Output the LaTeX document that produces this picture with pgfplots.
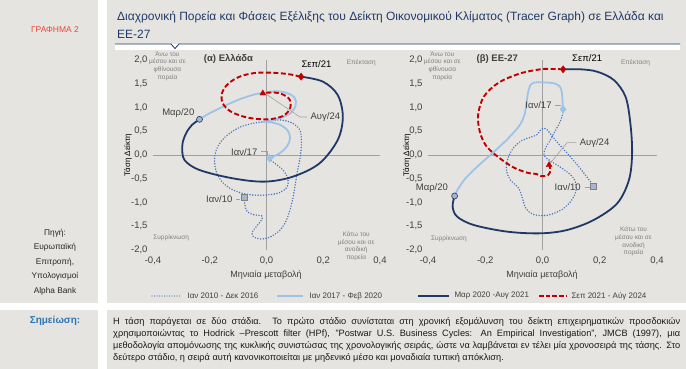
\documentclass[border=0pt]{standalone}
\usepackage{fontspec}
\setmainfont{Liberation Sans}
\usepackage{pgfplots}
\pgfplotsset{compat=1.18}

\definecolor{bg}{HTML}{E6E4E0}
\definecolor{titleblue}{HTML}{1F3A68}
\definecolor{dotblue}{HTML}{4472C4}
\definecolor{lightblue}{HTML}{9DC3E6}
\definecolor{navy}{HTML}{1F3864}
\definecolor{dred}{HTML}{C00000}
\definecolor{qgray}{HTML}{808080}
\definecolor{tickc}{HTML}{404040}
\definecolor{redlab}{HTML}{E8473A}
\definecolor{noteblue}{HTML}{2E75B6}
\definecolor{sqfill}{HTML}{A7B5CF}
\definecolor{leader}{HTML}{A0A0A0}

\pgfplotsset{
  tracer/.style={
    scale only axis, height=190pt, anchor=south west,
    xmin=-0.4, xmax=0.4, ymin=-2, ymax=2,
    xtick={-0.4,-0.2,0,0.2,0.4},
    ytick={-2,-1.5,-1,-0.5,0,0.5,1,1.5,2},
    axis line style={draw=none},
    major tick length=0pt,
    /pgf/number format/assume math mode=true,
    /pgf/number format/fixed,
    /pgf/number format/fixed zerofill,
    /pgf/number format/precision=1,
    /pgf/number format/use comma,
    tick label style={font=\fontsize{9.5}{11}\selectfont, text=tickc},
    xticklabel style={yshift=-3pt},
    yticklabel style={xshift=-2pt},
    clip=false,
  },
  dotS/.style={color=dotblue, line width=1.6pt, line cap=round, dash pattern=on 0pt off 2.7pt, smooth, tension=0.55, mark=none},
  lightS/.style={color=lightblue, line width=1.8pt, smooth, tension=0.55, mark=none},
  navyS/.style={color=navy, line width=1.8pt, smooth, tension=0.55, mark=none},
  redS/.style={color=dred, line width=1.9pt, dash pattern=on 5pt off 2.5pt, smooth, tension=0.55, mark=none},
}
\newcommand{\qfont}{\fontsize{6.5}{7.6}\selectfont}
\newcommand{\lfont}{\fontsize{9.5}{11}\selectfont}

\begin{document}
\begin{tikzpicture}[x=1pt,y=1pt]
\useasboundingbox (0,0) rectangle (686,369);
\fill[white] (0,0) rectangle (686,369);
\fill[bg] (0,66) rectangle (98,369);
\fill[bg] (107,66) rectangle (686,369);
\fill[bg] (0,0) rectangle (98,59);
\fill[bg] (107,0) rectangle (686,59);
\fill[white] (115,319) rectangle (680,325);
\draw[titleblue, line width=0.8pt] (115,325) -- (171,325) -- (175,320.5) -- (179,325) -- (680,325);

\node[anchor=west, text=titleblue, font=\fontsize{12}{14}\selectfont, inner sep=0pt] at (117,352) {Διαχρονική Πορεία και Φάσεις Εξέλιξης του Δείκτη Οικονομικού Κλίματος (Tracer Graph) σε Ελλάδα και};
\node[anchor=west, text=titleblue, font=\fontsize{12}{14}\selectfont, inner sep=0pt] at (117,335) {ΕΕ-27};

\node[text=redlab, font=\fontsize{8.5}{10}\selectfont] at (55,339) {ΓΡΑΦΗΜΑ 2};
\node[align=center, font=\fontsize{8.3}{14.5}\selectfont, text=black!85] at (55,107) {Πηγή:\\Ευρωπαϊκή\\Επιτροπή,\\Υπολογισμοί\\Alpha Bank};
\node[text=noteblue, font=\bfseries\fontsize{10}{12}\selectfont] at (55,48) {Σημείωση:};

% ---------------- Greece ----------------
\begin{axis}[tracer, at={(153pt,119pt)}, width=227pt]
\draw[leader, line width=0.8pt] (axis cs:-0.4,0) -- (axis cs:0.4,0);
\draw[leader, line width=0.8pt] (axis cs:0,-2) -- (axis cs:0,2);
\addplot[dotS] coordinates {
(-0.078,-0.898) (-0.076,-1.053) (-0.068,-1.193) (-0.045,-1.256) (-0.016,-1.284)
(-0.019,-1.382) (-0.036,-1.509) (-0.051,-1.635) (-0.045,-1.726) (-0.021,-1.768)
(0.007,-1.740) (0.042,-1.614) (0.066,-1.425) (0.081,-1.193) (0.093,-0.912)
(0.101,-0.632) (0.110,-0.316) (0.120,0.000) (0.123,0.281) (0.118,0.526)
(0.093,0.667) (0.052,0.737) (0.011,0.716) (-0.007,0.702) (-0.048,0.667)
(-0.095,0.582) (-0.142,0.400) (-0.172,0.175) (-0.183,-0.070) (-0.177,-0.351)
(-0.154,-0.582) (-0.113,-0.751) (-0.060,-0.835) (-0.001,-0.842) (0.046,-0.793)
(0.073,-0.667) (0.075,-0.491) (0.058,-0.316) (0.034,-0.196) (0.014,-0.105) (0.011,-0.070)
};
\addplot[lightS] coordinates {
(0.011,-0.070) (0.046,0.035) (0.073,0.189) (0.083,0.351) (0.075,0.512)
(0.049,0.632) (0.016,0.688) (-0.009,0.695) (0.011,0.723) (0.052,0.786)
(0.087,0.891) (0.103,1.053) (0.099,1.207) (0.069,1.312) (0.028,1.340)
(-0.036,1.284) (-0.095,1.172) (-0.148,1.032) (-0.201,0.877) (-0.236,0.751)
};
\addplot[navyS] coordinates {
(-0.236,0.751) (-0.263,0.632) (-0.277,0.526) (-0.291,0.351) (-0.297,0.175)
(-0.289,-0.105) (-0.236,-0.316) (-0.119,-0.491) (-0.007,-0.561) (0.093,-0.456)
(0.187,-0.175) (0.251,0.316) (0.269,0.807) (0.251,1.263) (0.199,1.544) (0.122,1.649)
};
\addplot[redS] coordinates {
(0.120,1.649) (0.075,1.705) (0.016,1.733) (-0.042,1.726) (-0.095,1.649)
(-0.136,1.495) (-0.157,1.298) (-0.154,1.088) (-0.125,0.912) (-0.066,0.786)
(0.005,0.751) (0.058,0.821) (0.083,0.982) (0.081,1.172) (0.054,1.284)
(0.022,1.319) (0.005,1.312) (-0.013,1.298)
};
\addplot[only marks, mark=square*, mark size=3pt, mark options={fill=sqfill, draw=gray, line width=0.6pt}] coordinates {(-0.078,-0.898)};
\addplot[only marks, mark=diamond*, mark size=4pt, mark options={fill=lightblue, draw=lightblue}] coordinates {(0.011,-0.070)};
\addplot[only marks, mark=*, mark size=3pt, mark options={fill=sqfill, draw=navy, line width=0.6pt}] coordinates {(-0.236,0.751)};
\addplot[only marks, mark=diamond*, mark size=3.6pt, mark options={fill=dred, draw=dred}] coordinates {(0.122,1.649)};
\addplot[only marks, mark=triangle*, mark size=3.4pt, mark options={fill=dred, draw=dred}] coordinates {(-0.013,1.298)};
\draw[leader, line width=0.6pt] (axis cs:-0.006,1.30) -- (axis cs:0.118,0.80) -- (axis cs:0.143,0.80);
\draw[leader, line width=0.6pt] (axis cs:-0.019,0.07) -- (axis cs:0.004,0.07) -- (axis cs:0.004,0.0);
\draw[leader, line width=0.6pt] (axis cs:-0.107,-0.93) -- (axis cs:-0.092,-0.93);
\node[font=\lfont, text=tickc, anchor=west] at (axis cs:0.143,0.79) {Αυγ/24};
\node[font=\lfont, text=tickc, anchor=east] at (axis cs:-0.020,0.07) {Ιαν/17};
\node[font=\lfont, text=tickc, anchor=east] at (axis cs:-0.108,-0.93) {Ιαν/10};
\node[font=\lfont, text=tickc, anchor=east] at (axis cs:-0.242,0.89) {Μαρ/20};
\node[font=\lfont, text=black] at (axis cs:0.176,1.92) {Σεπ/21};
\node[font=\bfseries\fontsize{9.5}{11}\selectfont, text=tickc] at (axis cs:-0.134,2.02) {(α) Ελλάδα};
\node[font=\qfont, text=qgray, align=center] at (axis cs:-0.349,1.87) {Άνω του\\μέσου και σε\\φθίνουσα\\πορεία};
\node[font=\qfont, text=qgray] at (axis cs:0.334,1.94) {Επέκταση};
\node[font=\qfont, text=qgray] at (axis cs:-0.336,-1.75) {Συρρίκνωση};
\node[font=\qfont, text=qgray, align=center] at (axis cs:0.316,-1.92) {Κάτω του\\μέσου και σε\\ανοδική\\πορεία};
\end{axis}
\node[font=\fontsize{9}{11}\selectfont, text=tickc] at (266,94) {Μηνιαία μεταβολή};
\node[font=\fontsize{8}{10}\selectfont, text=black, rotate=90] at (128,214) {Τάση Δείκτη};

% ---------------- EU-27 ----------------
\begin{axis}[tracer, at={(428pt,119pt)}, width=229pt]
\draw[leader, line width=0.8pt] (axis cs:-0.4,0) -- (axis cs:0.4,0);
\draw[leader, line width=0.8pt] (axis cs:0,-2) -- (axis cs:0,2);
\addplot[dotS] coordinates {
(0.179,-0.653) (0.154,-0.456) (0.123,-0.218) (0.092,0.000) (0.063,0.189)
(0.037,0.372) (0.019,0.512) (0.007,0.561) (-0.007,0.526) (-0.019,0.428)
(-0.042,0.372) (-0.071,0.309) (-0.100,0.161) (-0.121,-0.070) (-0.126,-0.316)
(-0.112,-0.526) (-0.083,-0.702) (-0.070,-0.912) (-0.058,-1.123) (-0.033,-1.249)
(0.016,-1.270) (0.069,-1.144) (0.104,-0.933) (0.118,-0.702) (0.109,-0.491)
(0.080,-0.330) (0.045,-0.189) (0.019,-0.091) (0.005,0.000) (0.010,0.140)
(0.026,0.302) (0.043,0.491) (0.059,0.667) (0.069,0.821) (0.072,0.961)
};
\addplot[lightS] coordinates {
(0.072,0.961) (0.070,1.123) (0.068,1.298) (0.061,1.439) (0.040,1.509)
(-0.001,1.530) (-0.030,1.523) (-0.044,1.453) (-0.051,1.298) (-0.056,1.088)
(-0.063,0.842) (-0.077,0.653) (-0.098,0.491) (-0.135,0.260) (-0.182,0.000)
(-0.228,-0.246) (-0.269,-0.491) (-0.296,-0.723) (-0.307,-0.863)
};
\addplot[navyS] coordinates {
(-0.307,-0.863) (-0.314,-1.088) (-0.298,-1.298) (-0.240,-1.474) (-0.123,-1.614)
(-0.007,-1.649) (0.086,-1.579) (0.179,-1.368) (0.261,-1.018) (0.302,-0.526)
(0.313,0.035) (0.307,0.667) (0.290,1.228) (0.249,1.579) (0.191,1.754)
(0.133,1.804) (0.072,1.804)
};
\addplot[redS] coordinates {
(0.072,1.804) (0.028,1.811) (-0.007,1.804) (-0.077,1.719) (-0.153,1.523)
(-0.205,1.228) (-0.225,0.842) (-0.219,0.491) (-0.199,0.211) (-0.164,0.000)
(-0.106,-0.246) (-0.054,-0.372) (-0.021,-0.400) (-0.007,-0.442) (0.019,-0.428)
(0.028,-0.316) (0.023,-0.211)
};
\addplot[only marks, mark=square*, mark size=3pt, mark options={fill=sqfill, draw=gray, line width=0.6pt}] coordinates {(0.179,-0.653)};
\addplot[only marks, mark=diamond*, mark size=4pt, mark options={fill=lightblue, draw=lightblue}] coordinates {(0.072,0.961)};
\addplot[only marks, mark=*, mark size=3pt, mark options={fill=sqfill, draw=navy, line width=0.6pt}] coordinates {(-0.307,-0.863)};
\addplot[only marks, mark=diamond*, mark size=3.6pt, mark options={fill=dred, draw=dred}] coordinates {(0.072,1.804)};
\addplot[only marks, mark=triangle*, mark size=3.4pt, mark options={fill=dred, draw=dred}] coordinates {(0.023,-0.211)};
\draw[leader, line width=0.6pt] (axis cs:0.025,-0.19) -- (axis cs:0.086,0.26) -- (axis cs:0.118,0.26);
\draw[leader, line width=0.6pt] (axis cs:0.045,1.05) -- (axis cs:0.064,1.05);
\draw[leader, line width=0.6pt] (axis cs:0.147,-0.68) -- (axis cs:0.168,-0.68);
\node[font=\lfont, text=tickc, anchor=west] at (axis cs:0.118,0.26) {Αυγ/24};
\node[font=\lfont, text=tickc, anchor=east] at (axis cs:0.044,1.05) {Ιαν/17};
\node[font=\lfont, text=tickc, anchor=east] at (axis cs:0.146,-0.68) {Ιαν/10};
\node[font=\lfont, text=tickc, anchor=east] at (axis cs:-0.318,-0.70) {Μαρ/20};
\node[font=\lfont, text=black] at (axis cs:0.156,2.05) {Σεπ/21};
\node[font=\bfseries\fontsize{9.5}{11}\selectfont, text=tickc] at (axis cs:-0.158,2.02) {(β) ΕΕ-27};
\node[font=\qfont, text=qgray, align=center] at (axis cs:-0.35,1.87) {Άνω του\\μέσου και σε\\φθίνουσα\\πορεία};
\node[font=\qfont, text=qgray] at (axis cs:0.325,1.94) {Επέκταση};
\node[font=\qfont, text=qgray] at (axis cs:-0.327,-1.77) {Συρρίκνωση};
\node[font=\qfont, text=qgray, align=center] at (axis cs:0.318,-1.82) {Κάτω του\\μέσου και σε\\ανοδική\\πορεία};
\end{axis}
\node[font=\fontsize{9}{11}\selectfont, text=tickc] at (542,94) {Μηνιαία μεταβολή};
\node[font=\fontsize{8}{10}\selectfont, text=black, rotate=90] at (407,214) {Τάση Δείκτη};

% ---------------- legend ----------------
\draw[dotblue, line width=1.3pt, line cap=round, dash pattern=on 0pt off 2.5pt] (152,73) -- (181,73);
\node[anchor=west, font=\fontsize{8}{10}\selectfont, text=tickc] at (184,73) {Ιαν 2010 - Δεκ 2016};
\draw[lightblue, line width=1.8pt] (277,73) -- (303,73);
\node[anchor=west, font=\fontsize{8}{10}\selectfont, text=tickc] at (306,73) {Ιαν 2017 - Φεβ 2020};
\draw[navy, line width=1.8pt] (418,73) -- (449,73);
\node[anchor=west, font=\fontsize{8}{10}\selectfont, text=tickc] at (451,73) {Μαρ 2020 -Αυγ 2021};
\draw[dred, line width=1.8pt, dash pattern=on 4.5pt off 2.2pt] (539,73) -- (566,73);
\node[anchor=west, font=\fontsize{8}{10}\selectfont, text=tickc] at (568,73) {Σεπ 2021 - Αύγ 2024};

% ---------------- note ----------------
\begin{scope}[every node/.style={anchor=west, inner sep=0pt, font=\fontsize{9.2}{11}\selectfont, text=black!90}]
\node at (113,47) {\makebox[567pt][s]{Η τάση παράγεται σε δύο στάδια. Το πρώτο στάδιο συνίσταται στη χρονική εξομάλυνση του δείκτη επιχειρηματικών προσδοκιών}};
\node at (113,35) {\makebox[567pt][s]{χρησιμοποιώντας το Hodrick –Prescott filter (HPf), "Postwar U.S. Business Cycles: An Empirical Investigation", JMCB (1997), μια}};
\node at (113,23) {\makebox[567pt][s]{μεθοδολογία απομόνωσης της κυκλικής συνιστώσας της χρονολογικής σειράς, ώστε να λαμβάνεται εν τέλει μία χρονοσειρά της τάσης. Στο}};
\node at (113,11) {δεύτερο στάδιο, η σειρά αυτή κανονικοποιείται με μηδενικό μέσο και μοναδιαία τυπική απόκλιση.};
\end{scope}
\end{tikzpicture}
\end{document}
